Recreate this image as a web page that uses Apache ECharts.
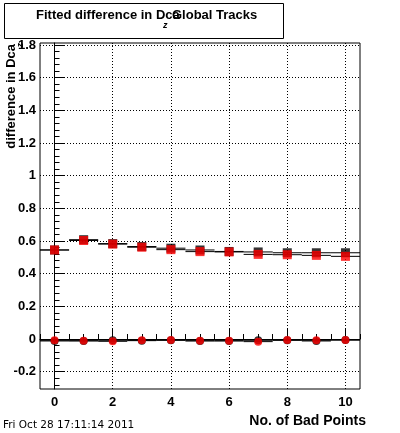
<!DOCTYPE html>
<html>
<head>
<meta charset="utf-8">
<script src="https://cdn.jsdelivr.net/npm/echarts@6/dist/echarts.min.js"></script>
<style>
html,body{margin:0;padding:0;background:#fff;}
#c{width:400px;height:433px;}
</style>
</head>
<body>
<div id="c"></div>
<script>
// ---- data ----
const bins = [0, 1, 2, 3, 4, 5, 6, 7, 8, 9, 10];
const redSquares   = [0.545, 0.603, 0.581, 0.562, 0.547, 0.535, 0.533, 0.518, 0.516, 0.512, 0.506];
const blackSquares = [0.545, 0.608, 0.584, 0.566, 0.556, 0.545, 0.536, 0.533, 0.528, 0.528, 0.528];
const redCircles   = [-0.008, -0.010, -0.014, -0.008, -0.006, -0.010, -0.010, -0.016, -0.006, -0.008, -0.006];
const blackCircles = [-0.012, -0.012, -0.008, -0.010, -0.008, -0.012, -0.012, -0.008, -0.008, -0.012, -0.006];
const xMajorTicks = [0, 2, 4, 6, 8, 10];
const xMinorTicks = [-0.5, 0.5, 1, 1.5, 2.5, 3, 3.5, 4.5, 5, 5.5, 6.5, 7, 7.5, 8.5, 9, 9.5, 10.5];
const yMajorTicks = [-0.2, 0, 0.2, 0.4, 0.6, 0.8, 1, 1.2, 1.4, 1.6, 1.8];
const yMinorTicks = [-0.28, -0.24, -0.16, -0.12, -0.08, -0.04, 0.04, 0.08, 0.12, 0.16,
  0.24, 0.28, 0.32, 0.36, 0.44, 0.48, 0.52, 0.56, 0.64, 0.68, 0.72, 0.76,
  0.84, 0.88, 0.92, 0.96, 1.04, 1.08, 1.12, 1.16, 1.24, 1.28, 1.32, 1.36,
  1.44, 1.48, 1.52, 1.56, 1.64, 1.68, 1.72, 1.76];
const xRange = [-0.5, 10.5];
const yRange = [-0.306, 1.812];

const pairs = (ys) => bins.map((x, i) => [x, ys[i]]);

const FONT = '"Liberation Sans", Arial, Helvetica, sans-serif';

function hbar(params, api) {
  const x = api.value(0), y = api.value(1);
  const p1 = api.coord([x - 0.5, y]);
  const p2 = api.coord([x + 0.5, y]);
  return {
    type: 'line',
    shape: { x1: p1[0], y1: p1[1], x2: p2[0], y2: p2[1] },
    style: { stroke: '#000', lineWidth: 1 }
  };
}

const chart = echarts.init(document.getElementById('c'), null, { renderer: 'canvas' });
const axisLineStyle = { color: '#000', width: 1 };
chart.setOption({
  animation: false,
  backgroundColor: '#fff',
  grid: { left: 40, right: 40, top: 43, bottom: 44, show: true, borderColor: '#000', borderWidth: 1, backgroundColor: 'transparent' },
  xAxis: [
    {
      type: 'value', min: xRange[0], max: xRange[1], position: 'bottom',
      axisLine: { show: true, lineStyle: axisLineStyle },
      axisTick: { show: true, inside: true, length: 10, customValues: xMajorTicks, lineStyle: axisLineStyle },
      axisLabel: { show: true, customValues: xMajorTicks, margin: 7, color: '#000', fontFamily: FONT, fontWeight: 'bold', fontSize: 13,
        formatter: v => String(Math.round(v)) },
      splitLine: { show: true, lineStyle: { color: '#000', width: 1, type: [1, 2] } }
    },
    {
      type: 'value', min: xRange[0], max: xRange[1], position: 'bottom', offset: 0,
      axisLine: { show: false },
      axisTick: { show: true, inside: true, length: 5, customValues: xMinorTicks, lineStyle: axisLineStyle },
      axisLabel: { show: false },
      splitLine: { show: false }
    }
  ],
  yAxis: [
    {
      type: 'value', min: yRange[0], max: yRange[1], position: 'left',
      axisLine: { show: true, lineStyle: axisLineStyle },
      axisTick: { show: true, inside: true, length: 10, customValues: yMajorTicks, lineStyle: axisLineStyle },
      axisLabel: { show: true, customValues: yMajorTicks, margin: 4, color: '#000', fontFamily: FONT, fontWeight: 'bold', fontSize: 13,
        formatter: v => String(parseFloat(v.toFixed(1))) },
      splitLine: { show: true, lineStyle: { color: '#000', width: 1, type: [1, 2] } }
    },
    {
      type: 'value', min: yRange[0], max: yRange[1], position: 'left', offset: 0,
      axisLine: { show: false },
      axisTick: { show: true, inside: true, length: 5, customValues: yMinorTicks, lineStyle: axisLineStyle },
      axisLabel: { show: false },
      splitLine: { show: false }
    }
  ],
  series: [
    { type: 'custom', xAxisIndex: 0, yAxisIndex: 0, renderItem: hbar, data: pairs(blackSquares), z: 2 },
    { type: 'custom', xAxisIndex: 0, yAxisIndex: 0, renderItem: hbar, data: pairs(redSquares), z: 2 },
    { type: 'custom', xAxisIndex: 0, yAxisIndex: 0, renderItem: hbar, data: pairs(blackCircles), z: 2 },
    { type: 'custom', xAxisIndex: 0, yAxisIndex: 0, renderItem: hbar, data: pairs(redCircles), z: 2 },
    { type: 'scatter', xAxisIndex: 0, yAxisIndex: 0, symbol: 'rect', symbolSize: 9, data: pairs(blackSquares), itemStyle: { color: '#000' }, z: 3 },
    { type: 'scatter', xAxisIndex: 0, yAxisIndex: 0, symbol: 'circle', symbolSize: 8, data: pairs(blackCircles), itemStyle: { color: '#000' }, z: 3 },
    { type: 'scatter', xAxisIndex: 0, yAxisIndex: 0, symbol: 'rect', symbolSize: 9, data: pairs(redSquares), itemStyle: { color: '#ff0000' }, z: 4 },
    { type: 'scatter', xAxisIndex: 0, yAxisIndex: 0, symbol: 'circle', symbolSize: 8, data: pairs(redCircles), itemStyle: { color: '#ff0000' }, z: 4 }
  ],
  graphic: [
    { type: 'rect', shape: { x: 4.5, y: 3.5, width: 279, height: 35 }, style: { fill: '#fff', stroke: '#000', lineWidth: 1 }, z: 10 },
    { type: 'text', x: 36, y: 15.5, style: { text: 'Fitted difference in Dca', font: 'bold 13px ' + FONT, fill: '#000', verticalAlign: 'middle' }, z: 11 },
    { type: 'text', x: 172, y: 15.5, style: { text: 'Global Tracks', font: 'bold 13px ' + FONT, fill: '#000', verticalAlign: 'middle' }, z: 11 },
    { type: 'text', x: 163, y: 26, style: { text: 'z', font: 'bold italic 9px ' + FONT, fill: '#000', verticalAlign: 'middle' }, z: 11 },
    { type: 'text', x: 11, y: 44, rotation: Math.PI / 2, style: { text: 'difference in Dca', font: 'bold 13px ' + FONT, fill: '#000', align: 'right', verticalAlign: 'middle' }, z: 11 },
    { type: 'text', x: 21, y: 43, rotation: Math.PI / 2, style: { text: 'z', font: 'bold italic 9px ' + FONT, fill: '#000', align: 'right', verticalAlign: 'middle' }, z: 11 },
    { type: 'text', x: 366, y: 421, style: { text: 'No. of Bad Points', font: 'bold 14px ' + FONT, fill: '#000', align: 'right', verticalAlign: 'middle' }, z: 11 },
    { type: 'text', x: 3, y: 425, style: { text: 'Fri Oct 28 17:11:14 2011', font: '10.5px "DejaVu Sans", sans-serif', fill: '#000', verticalAlign: 'middle' }, z: 11 }
  ]
});
</script>
</body>
</html>
